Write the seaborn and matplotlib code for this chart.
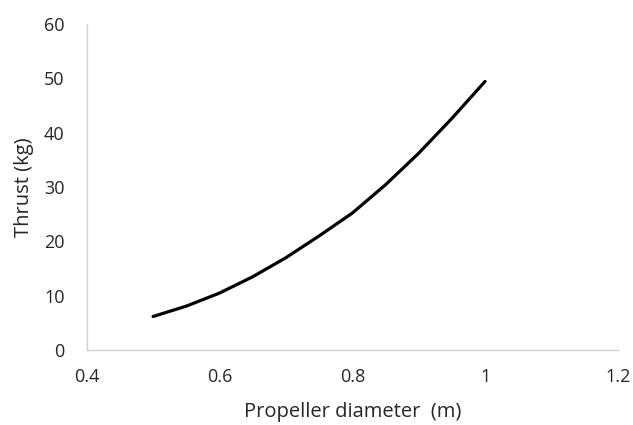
import matplotlib
matplotlib.use('Agg')
import matplotlib.pyplot as plt
import seaborn as sns
import pandas as pd

# valores
diametro = [0.5, 0.55, 0.6, 0.65, 0.7, 0.75, 0.8, 0.85, 0.9, 0.95, 1.0]
empuxo = [6.2, 8.1, 10.5, 13.5, 17.0, 21.0, 25.2, 30.4, 36.2, 42.6, 49.4]

df = pd.DataFrame({'D': diametro, 'T': empuxo})

sns.set_style('white')
plt.rcParams['font.family'] = ['Open Sans', 'DejaVu Sans']

fig = plt.figure(figsize=(6.33, 4.25), dpi=100)
ax = fig.add_axes([0.137, 0.176, 0.839, 0.768])

sns.lineplot(data=df, x='D', y='T', color='black', linewidth=2.3, ax=ax)

ax.set_xlim(0.4, 1.2)
ax.set_ylim(0, 60)
ax.set_xticks([0.4, 0.6, 0.8, 1.0, 1.2])
ax.set_xticklabels(['0.4', '0.6', '0.8', '1', '1.2'])
ax.set_yticks(range(0, 61, 10))
ax.tick_params(labelsize=13, colors='#262626', length=0)
ax.tick_params(axis='x', pad=13)
ax.tick_params(axis='y', pad=16)

for s in ['top', 'right']:
    ax.spines[s].set_visible(False)
for s in ['left', 'bottom']:
    ax.spines[s].set_color('#d0d0d0')
    ax.spines[s].set_linewidth(1.0)

ax.set_xlabel('Propeller diameter  (m)', fontsize=14.5, color='#262626', labelpad=11)
ax.set_ylabel('Thrust (kg)', fontsize=14.5, color='#262626', labelpad=7)

fig.savefig('out.png', dpi=100)
